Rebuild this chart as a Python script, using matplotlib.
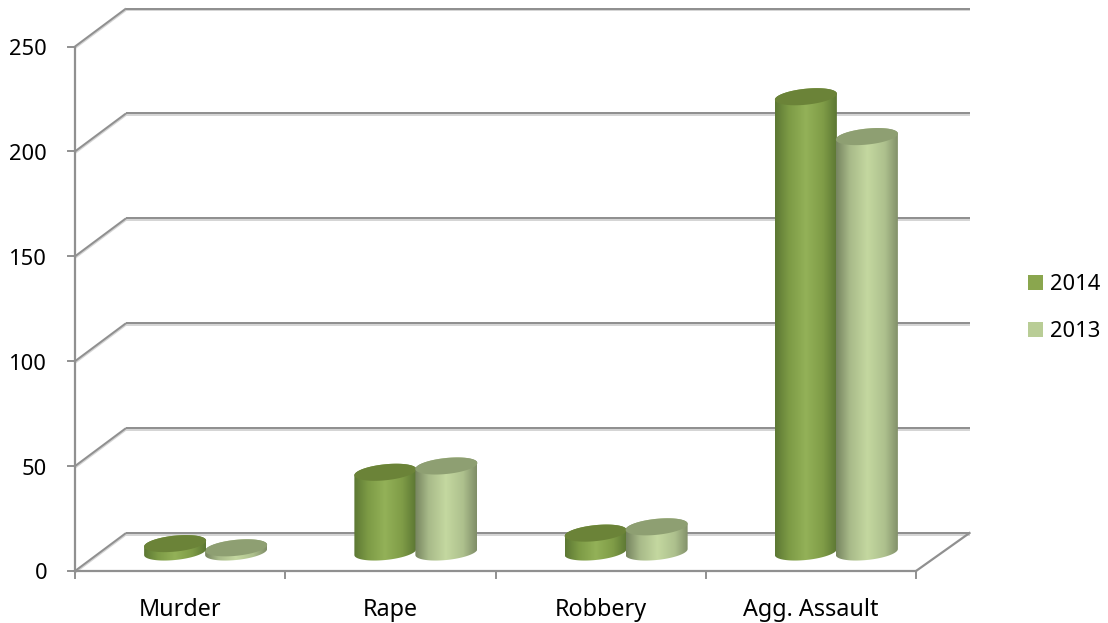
#!/usr/bin/env python3
import matplotlib
matplotlib.use("Agg")
import matplotlib.pyplot as plt
import numpy as np
from matplotlib.colors import LinearSegmentedColormap
from matplotlib.patches import Patch, Polygon

categories = ["Murder", "Rape", "Robbery", "Agg. Assault"]
values_2014 = [4, 38, 9, 217]
values_2013 = [2, 41, 12, 198]
y_ticks = [0, 50, 100, 150, 200, 250]

W, H = 1108, 623
CAT_PX = 210.25      # px per category
VAL_PX = 2.098       # px per value unit
X0_PX, Y0_PX = 75, 571
DEPTH_X = 51 / CAT_PX
DEPTH_Y = 38 / VAL_PX
HALF_W = 31 / CAT_PX
OFFSET = 30.5 / CAT_PX
MINOR = 8.0 / VAL_PX
TILT = 3.0 / VAL_PX  # rise of the ellipse at its right end
GRID = "#909090"
SHADOW = "#d4d4d4"
FONT = "Noto Sans"
FS = 15.8
FS_CAT = 16.8

plt.rcParams["font.family"] = [FONT, "DejaVu Sans"]

fig = plt.figure(figsize=(W / 100, H / 100), dpi=100)
ax = fig.add_axes([0, 0, 1, 1])
ax.axis("off")


def grid_line(xs, ys, lw=2.0):
    ax.plot(xs, [y - 1.6 / VAL_PX for y in ys], color=SHADOW, lw=lw * 0.7, zorder=1,
            solid_capstyle="butt")
    ax.plot(xs, ys, color=GRID, lw=lw * 0.72, zorder=2, solid_capstyle="butt")


n = len(categories)
for v in y_ticks:
    # back wall + side wall
    grid_line([DEPTH_X, n + DEPTH_X + 0.012], [v + DEPTH_Y, v + DEPTH_Y])
    grid_line([0, DEPTH_X], [v, v + DEPTH_Y])
    ax.plot([-7 / CAT_PX, 0], [v, v], color=GRID, lw=1.4, zorder=2)
    ax.text(-28 / CAT_PX, v - 1.4, str(v), ha="right", va="center", fontsize=FS, color="black")

# floor and left axis
ax.plot([0, n], [0, 0], color=GRID, lw=1.6, zorder=2)
ax.plot([n, n + DEPTH_X + 0.012], [0, DEPTH_Y], color=GRID, lw=1.6, zorder=2)
ax.plot([0, 0], [0, y_ticks[-1]], color=GRID, lw=1.6, zorder=2)
for i in range(n + 1):
    ax.plot([i, i], [0, -7 / VAL_PX], color=GRID, lw=1.4, zorder=2)
for i, c in enumerate(categories):
    ax.text(i + 0.5, -18.5, c, ha="center", va="center", fontsize=FS_CAT, color="black")


def ellipse_pts(cx, cy, t):
    x = cx + HALF_W * np.cos(t)
    y = cy + MINOR * np.sin(t) + TILT * np.cos(t)
    return np.column_stack([x, y])


def cylinder(cx, value, cmap, top_color, z):
    base = DEPTH_Y / 2
    top = base + value
    lower = ellipse_pts(cx, base, np.linspace(np.pi, 2 * np.pi, 60))
    upper = ellipse_pts(cx, top, np.linspace(0, np.pi, 60))
    side = Polygon(np.vstack([lower, upper]), closed=True, fc="none", ec="none", zorder=z)
    ax.add_patch(side)
    grad = np.linspace(0, 1, 256).reshape(1, -1)
    img = ax.imshow(grad, cmap=cmap, aspect="auto", zorder=z,
                    extent=[cx - HALF_W, cx + HALF_W, base - MINOR * 2, top + MINOR * 2])
    img.set_clip_path(side)
    cap = ellipse_pts(cx, top, np.linspace(0, 2 * np.pi, 120))
    ax.add_patch(Polygon(cap, closed=True, fc=top_color, ec="none", zorder=z + 0.1))


cmap_2014 = LinearSegmentedColormap.from_list(
    "c14", [(0, "#5c7733"), (0.22, "#7c9a45"), (0.5, "#93b158"), (0.78, "#7f9c47"), (1, "#5c7733")])
cmap_2013 = LinearSegmentedColormap.from_list(
    "c13", [(0, "#76845f"), (0.22, "#a8ba89"), (0.5, "#c4d8a0"), (0.78, "#adc08d"), (1, "#7f8d67")])

for i in range(n):
    center = i + 0.5 + DEPTH_X / 2
    # the 2014 bar overlaps 2013 only on the flat murder discs
    z_2013 = 5 if values_2013[i] >= 10 else 3
    z_2014 = 4
    cylinder(center + OFFSET, values_2013[i], cmap_2013, "#8e9f72", z_2013)
    cylinder(center - OFFSET, values_2014[i], cmap_2014, "#6b8338", z_2014)

handles = [Patch(fc="#8aa64e", ec="none", label="2014"),
           Patch(fc="#b9cd96", ec="none", label="2013")]
ax.legend(handles=handles, loc="center left", bbox_to_anchor=(1028 / W, 1 - 308 / H),
          frameon=False, fontsize=FS, handlelength=0.68, handleheight=0.68,
          handletextpad=0.33, labelspacing=1.2, borderpad=0, borderaxespad=0)

ax.set_xlim(-X0_PX / CAT_PX, (W - X0_PX) / CAT_PX)
ax.set_ylim(-(H - Y0_PX) / VAL_PX, Y0_PX / VAL_PX)

fig.savefig("out.png", dpi=100)
